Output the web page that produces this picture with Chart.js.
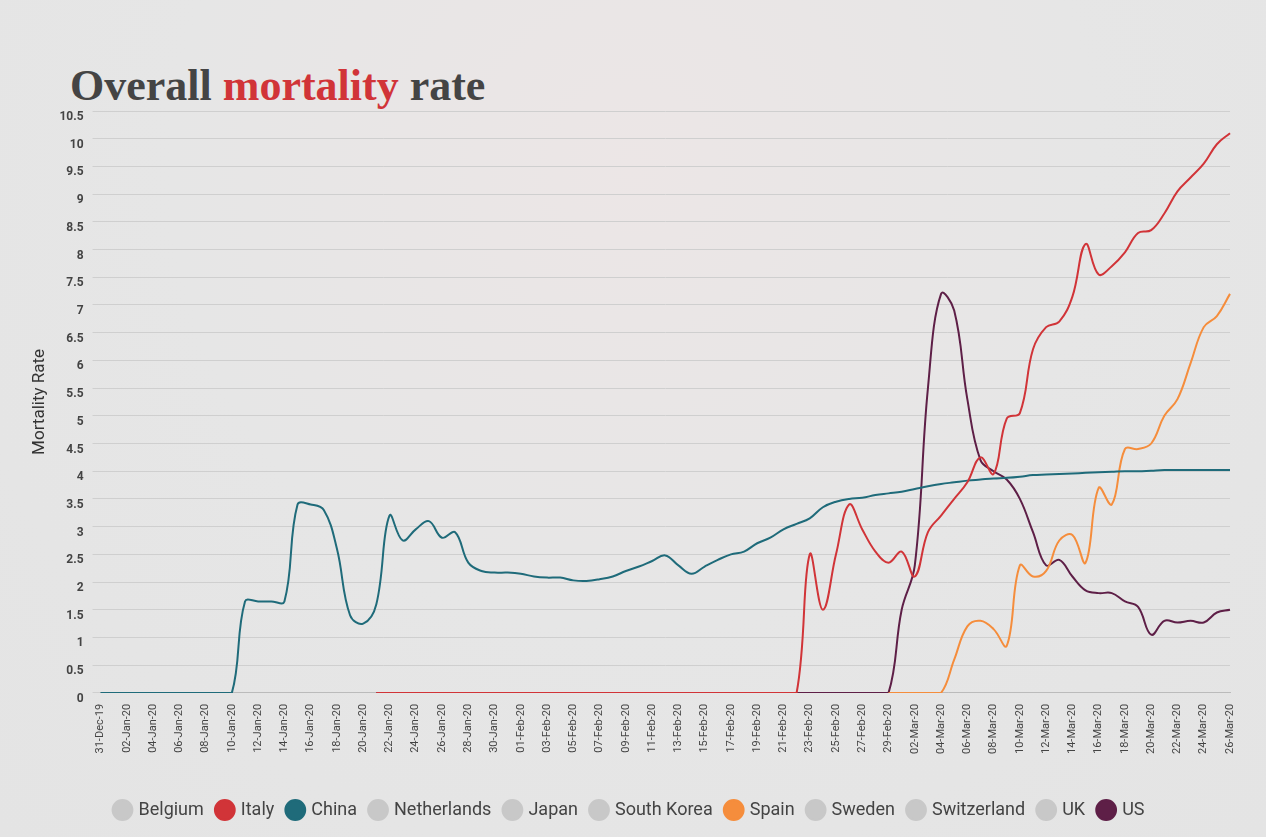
<!DOCTYPE html>
<html>
<head>
<meta charset="utf-8">
<script src="https://cdn.jsdelivr.net/npm/chart.js@4"></script>
<style>
  body { margin: 0; width: 1266px; height: 837px; overflow: hidden;
         background: radial-gradient(circle at 50% 20%, #ece6e6 0%, #e6e6e6 50%, #e4e4e4 100%);
         font-family: Roboto, sans-serif; }
  h1 { position: absolute; left: 70px; top: 60px; margin: 0; font-family: "Liberation Serif", serif;
       font-size: 44px; color: #444; font-weight: bold; }
  h1 span { color: #d13438; }
  #wrap { position: absolute; left: 0; top: 102px; width: 1266px; height: 735px; }
</style>
</head>
<body>
<h1>Overall <span>mortality</span> rate</h1>
<div id="wrap"><canvas id="chart"></canvas></div>
<script>
// Даты: 31-Dec-19 .. 26-Mar-20, по дням
const months = ['Jan', 'Feb', 'Mar'];
const daysInMonth = [31, 29, 26];
const dates = ['31-Dec-19'];
months.forEach((m, k) => {
    for (let d = 1; d <= daysInMonth[k]; d++) {
        dates.push(String(d).padStart(2, '0') + '-' + m + '-20');
    }
});

const china = [0,0,0,0,0,0,0,0,0,0,0, 1.65,1.65,1.65,1.65, 3.4,3.4,3.3,2.6,1.4,1.25,1.6,3.2,2.75,2.95,3.1,2.8,2.9,2.35,2.2,2.17,2.17,
    2.15,2.1,2.08,2.08,2.03,2.02,2.05,2.1,2.2,2.28,2.38,2.48,2.3,2.15,2.28,2.4,2.5,2.55,2.7,2.8,2.95,3.05,3.15,3.35,3.45,3.5,3.52,3.57,3.6,
    3.63,3.68,3.73,3.77,3.8,3.83,3.85,3.87,3.88,3.9,3.93,3.94,3.95,3.96,3.97,3.98,3.99,4.0,4.0,4.01,4.02,4.02,4.02,4.02,4.02,4.02];

const zerosTo = (n) => Array(n).fill(0);
const nulls = (n) => Array(n).fill(null);

// Италия: с 21-Jan нули, с 23-Feb рост
const italy = nulls(21).concat(zerosTo(33), [2.5,1.5,2.5,3.4,2.95,2.55,2.35,
    2.55,2.1,2.9,3.2,3.5,3.8,4.25,3.95,4.95,5.05,6.2,6.6,6.7,7.15,8.1,7.55,7.7,7.95,8.3,8.35,8.65,9.05,9.3,9.55,9.9,10.1]);

const spain = nulls(60).concat([0, 0,0,0,0, 0.6,1.2,1.3,1.15,0.85,2.3,2.1,2.2,2.75,2.85,2.35,3.7,3.4,4.4,4.4,4.5,5.0,5.3,5.95,6.6,6.8,7.2]);

const us = nulls(21).concat(zerosTo(40), [1.5,2.3,5.5,7.2,6.9,5.3,4.2,4.0,3.85,3.5,2.9,2.3,2.4,2.1,1.85,1.8,1.8,1.65,1.55,1.05,1.3,1.27,1.3,1.27,1.45,1.5]);

const countries = ['Belgium', 'Italy', 'China', 'Netherlands', 'Japan', 'South Korea', 'Spain', 'Sweden', 'Switzerland', 'UK', 'US'];
const seriesData = { Italy: italy, China: china, Spain: spain, US: us };
const colors = { Italy: '#d13438', China: '#1f6b7a', Spain: '#f58d3c', US: '#5e1f47' };

new Chart(document.getElementById('chart'), {
    type: 'line',
    data: {
        labels: dates,
        datasets: countries.map(c => ({
            label: c,
            data: seriesData[c] || [],
            borderColor: colors[c] || '#c8c8c8',
            backgroundColor: colors[c] || '#c8c8c8',
            borderWidth: 2,
            pointRadius: 0,
            tension: 0.4,
            spanGaps: false
        }))
    },
    options: {
        responsive: true,
        maintainAspectRatio: false,
        animation: false,
        layout: { padding: { left: 30, right: 36, top: 8, bottom: 8 } },
        plugins: {
            legend: {
                position: 'bottom',
                labels: { usePointStyle: true, pointStyle: 'circle', boxWidth: 14, boxHeight: 14, padding: 14,
                          color: '#444', font: { family: 'Roboto', size: 18 } }
            },
            tooltip: { enabled: false }
        },
        scales: {
            x: {
                grid: { display: false },
                border: { color: '#bbb' },
                afterFit: (axis) => { axis.height += 30; },
                ticks: {
                    autoSkip: false, maxRotation: 90, minRotation: 90, color: '#444',
                    font: { family: 'Roboto', size: 11 },
                    callback: function (v, i) { return i % 2 === 0 ? this.getLabelForValue(v) : ''; }
                }
            },
            y: {
                min: 0, max: 10.5,
                title: { display: true, text: 'Mortality Rate', color: '#333', padding: 0,
                         font: { family: 'Roboto', size: 17 } },
                grid: { color: '#cfcfcf' },
                border: { display: false },
                ticks: { stepSize: 0.5, color: '#444', font: { family: 'Roboto', size: 12, weight: 'bold' },
                         padding: 9, align: 'start', callback: (v) => String(v) }
            }
        }
    }
});
</script>
</body>
</html>
